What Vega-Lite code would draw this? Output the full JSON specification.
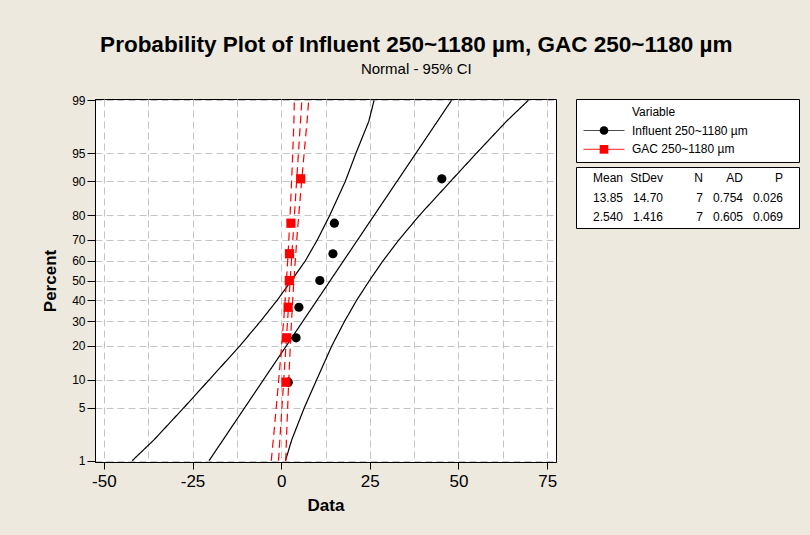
{
  "$schema": "https://vega.github.io/schema/vega-lite/v6.json",
  "background": "#EDE9DF",
  "autosize": {"type": "none"},
  "padding": {"left": 95, "top": 99, "right": 715, "bottom": 436},
  "title": {
    "text": "Probability Plot of Influent 250~1180 µm, GAC 250~1180 µm",
    "subtitle": "Normal - 95% CI",
    "anchor": "middle",
    "frame": "bounds",
    "dx": -4,
    "fontSize": 22.5,
    "fontWeight": "bold",
    "color": "black",
    "subtitleFontSize": 15,
    "subtitleColor": "black",
    "subtitlePadding": 5,
    "offset": 17
  },
  "config": {
    "font": "Liberation Sans",
    "view": {"stroke": "black", "strokeWidth": 1},
    "axis": {"labelColor": "black", "titleColor": "black", "domainColor": "black", "tickColor": "black", "labelFont": "Liberation Sans", "titleFont": "Liberation Sans"},
    "text": {"font": "Liberation Sans", "color": "black"}
  },
  "datasets": {
    "points": [
      {"series": "Influent 250~1180 µm", "percent": 9.46, "value": 2.0},
      {"series": "Influent 250~1180 µm", "percent": 22.97, "value": 4.2},
      {"series": "Influent 250~1180 µm", "percent": 36.49, "value": 5.0},
      {"series": "Influent 250~1180 µm", "percent": 50, "value": 10.9},
      {"series": "Influent 250~1180 µm", "percent": 63.51, "value": 14.6},
      {"series": "Influent 250~1180 µm", "percent": 77.03, "value": 15.0},
      {"series": "Influent 250~1180 µm", "percent": 90.54, "value": 45.3},
      {"series": "GAC 250~1180 µm", "percent": 9.46, "value": 1.35},
      {"series": "GAC 250~1180 µm", "percent": 22.97, "value": 1.55},
      {"series": "GAC 250~1180 µm", "percent": 36.49, "value": 1.95},
      {"series": "GAC 250~1180 µm", "percent": 50, "value": 2.3},
      {"series": "GAC 250~1180 µm", "percent": 63.51, "value": 2.35},
      {"series": "GAC 250~1180 µm", "percent": 77.03, "value": 2.75},
      {"series": "GAC 250~1180 µm", "percent": 90.54, "value": 5.5}
    ],
    "bands": [
      {"series": "Influent 250~1180 µm", "percent": 1, "lower": -42.0, "fit": -20.35, "upper": 1.2},
      {"series": "Influent 250~1180 µm", "percent": 2, "lower": -35.8, "fit": -16.34, "upper": 3.0},
      {"series": "Influent 250~1180 µm", "percent": 5, "lower": -27.5, "fit": -10.33, "upper": 6.5},
      {"series": "Influent 250~1180 µm", "percent": 10, "lower": -20.3, "fit": -4.99, "upper": 10.0},
      {"series": "Influent 250~1180 µm", "percent": 20, "lower": -11.6, "fit": 1.48, "upper": 14.3},
      {"series": "Influent 250~1180 µm", "percent": 30, "lower": -5.8, "fit": 6.14, "upper": 17.9},
      {"series": "Influent 250~1180 µm", "percent": 40, "lower": -1.1, "fit": 10.13, "upper": 21.3},
      {"series": "Influent 250~1180 µm", "percent": 50, "lower": 2.9, "fit": 13.85, "upper": 24.9},
      {"series": "Influent 250~1180 µm", "percent": 60, "lower": 6.8, "fit": 17.57, "upper": 28.7},
      {"series": "Influent 250~1180 µm", "percent": 70, "lower": 10.2, "fit": 21.56, "upper": 33.2},
      {"series": "Influent 250~1180 µm", "percent": 80, "lower": 13.7, "fit": 26.22, "upper": 39.0},
      {"series": "Influent 250~1180 µm", "percent": 90, "lower": 18.1, "fit": 32.69, "upper": 47.8},
      {"series": "Influent 250~1180 µm", "percent": 95, "lower": 21.1, "fit": 38.03, "upper": 55.1},
      {"series": "Influent 250~1180 µm", "percent": 98, "lower": 24.7, "fit": 44.04, "upper": 63.5},
      {"series": "Influent 250~1180 µm", "percent": 99, "lower": 26.2, "fit": 48.05, "upper": 69.7},
      {"series": "GAC 250~1180 µm", "percent": 1, "lower": -2.8, "fit": -0.75, "upper": 1.3},
      {"series": "GAC 250~1180 µm", "percent": 2, "lower": -2.22, "fit": -0.37, "upper": 1.48},
      {"series": "GAC 250~1180 µm", "percent": 5, "lower": -1.4, "fit": 0.21, "upper": 1.82},
      {"series": "GAC 250~1180 µm", "percent": 10, "lower": -0.7, "fit": 0.73, "upper": 2.15},
      {"series": "GAC 250~1180 µm", "percent": 20, "lower": 0.13, "fit": 1.35, "upper": 2.57},
      {"series": "GAC 250~1180 µm", "percent": 30, "lower": 0.68, "fit": 1.8, "upper": 2.92},
      {"series": "GAC 250~1180 µm", "percent": 40, "lower": 1.12, "fit": 2.18, "upper": 3.25},
      {"series": "GAC 250~1180 µm", "percent": 50, "lower": 1.49, "fit": 2.54, "upper": 3.59},
      {"series": "GAC 250~1180 µm", "percent": 60, "lower": 1.83, "fit": 2.9, "upper": 3.97},
      {"series": "GAC 250~1180 µm", "percent": 70, "lower": 2.16, "fit": 3.28, "upper": 4.4},
      {"series": "GAC 250~1180 µm", "percent": 80, "lower": 2.51, "fit": 3.73, "upper": 4.95},
      {"series": "GAC 250~1180 µm", "percent": 90, "lower": 2.94, "fit": 4.35, "upper": 5.77},
      {"series": "GAC 250~1180 µm", "percent": 95, "lower": 3.26, "fit": 4.87, "upper": 6.48},
      {"series": "GAC 250~1180 µm", "percent": 98, "lower": 3.6, "fit": 5.45, "upper": 7.3},
      {"series": "GAC 250~1180 µm", "percent": 99, "lower": 3.7, "fit": 5.83, "upper": 7.75}
    ],
    "legend": [
      {"label": "Variable", "kind": "title"},
      {"label": "Influent 250~1180 µm", "kind": "series"},
      {"label": "GAC 250~1180 µm", "kind": "series"}
    ],
    "stats": [
      {"series": "Influent 250~1180 µm", "Mean": "13.85", "StDev": "14.70", "N": "7", "AD": "0.754", "P": "0.026"},
      {"series": "GAC 250~1180 µm", "Mean": "2.540", "StDev": "1.416", "N": "7", "AD": "0.605", "P": "0.069"}
    ]
  },
  "spacing": 17,
  "hconcat": [
    {
      "width": 461,
      "height": 363,
      "view": {"fill": "white", "stroke": "black"},
      "encoding": {
        "x": {
          "field": "value", "type": "quantitative",
          "scale": {"domain": [-52.5, 77.5], "nice": false, "zero": false},
          "axis": {
            "values": [-50, -37.5, -25, -12.5, 0, 12.5, 25, 37.5, 50, 62.5, 75],
            "labelExpr": "datum.value % 25 === 0 ? '' + datum.value : ''",
            "tickOpacity": {"condition": {"test": "datum.value % 25 === 0", "value": 1}, "value": 0},
            "grid": true, "gridDash": [7, 4], "gridColor": "#C4C4C4",
            "tickSize": 7, "labelFontSize": 17, "labelPadding": 4,
            "labelFlush": false, "labelOverlap": false,
            "title": "Data", "titleFontSize": 17, "titleFontWeight": "bold", "titlePadding": 8
          }
        },
        "y": {
          "field": "z", "type": "quantitative",
          "scale": {"domain": [-2.343, 2.343], "nice": false, "zero": false},
          "axis": {
            "values": [-2.3263, -1.6449, -1.2816, -0.8416, -0.5244, -0.2533, 0, 0.2533, 0.5244, 0.8416, 1.2816, 1.6449, 2.3263],
            "labelExpr": "format(cumulativeNormal(datum.value) * 100, '.0f')",
            "grid": true, "gridDash": [7, 4], "gridColor": "#C4C4C4",
            "tickSize": 8, "labelFontSize": 12, "labelPadding": 2,
            "labelOverlap": false, "labelFlush": false,
            "title": "Percent", "titleFontSize": 17, "titleFontWeight": "bold", "titlePadding": 12
          }
        },
        "color": {
          "field": "series", "type": "nominal",
          "scale": {"domain": ["Influent 250~1180 µm", "GAC 250~1180 µm"], "range": ["#000000", "#FF0000"]},
          "legend": null
        }
      },
      "layer": [
        {
          "data": {"name": "bands"},
          "transform": [
            {"fold": ["lower", "fit", "upper"], "as": ["bound", "value"]},
            {"calculate": "quantileNormal(datum.percent / 100)", "as": "z"}
          ],
          "mark": {"type": "line", "strokeWidth": 1.2},
          "encoding": {
            "strokeDash": {
              "field": "series", "type": "nominal",
              "scale": {"domain": ["Influent 250~1180 µm", "GAC 250~1180 µm"], "range": [[1, 0], [8, 5]]},
              "legend": null
            },
            "detail": {"field": "bound", "type": "nominal"},
            "order": {"field": "percent", "type": "quantitative"}
          }
        },
        {
          "data": {"name": "points"},
          "transform": [{"calculate": "quantileNormal(datum.percent / 100)", "as": "z"}],
          "mark": {"type": "point", "filled": true, "opacity": 1},
          "encoding": {
            "shape": {
              "field": "series", "type": "nominal",
              "scale": {"domain": ["Influent 250~1180 µm", "GAC 250~1180 µm"], "range": ["circle", "square"]},
              "legend": null
            },
            "size": {"value": 85}
          }
        }
      ]
    },
    {
      "spacing": 3,
      "vconcat": [
        {
          "width": 223,
          "height": 63,
          "view": {"fill": "white", "stroke": "black"},
          "data": {"name": "legend"},
          "encoding": {
            "y": {
              "field": "label", "type": "nominal",
              "scale": {"type": "point", "domain": ["Variable", "Influent 250~1180 µm", "GAC 250~1180 µm"], "padding": 0.67},
              "axis": null
            }
          },
          "layer": [
            {
              "transform": [{"filter": "datum.kind === 'series'"}],
              "mark": {"type": "tick", "orient": "horizontal", "size": 41, "thickness": 1.2},
              "encoding": {
                "x": {"datum": "symbol", "type": "nominal", "scale": {"type": "point", "domain": ["symbol", "label"], "range": [28, 56], "padding": 0}, "axis": null},
                "color": {
                  "field": "label", "type": "nominal",
                  "scale": {"domain": ["Influent 250~1180 µm", "GAC 250~1180 µm"], "range": ["#000000", "#FF0000"]},
                  "legend": null
                }
              }
            },
            {
              "transform": [{"filter": "datum.kind === 'series'"}],
              "mark": {"type": "point", "filled": true, "opacity": 1, "size": 75},
              "encoding": {
                "x": {"datum": "symbol", "type": "nominal"},
                "color": {"field": "label", "type": "nominal", "legend": null},
                "shape": {
                  "field": "label", "type": "nominal",
                  "scale": {"domain": ["Influent 250~1180 µm", "GAC 250~1180 µm"], "range": ["circle", "square"]},
                  "legend": null
                }
              }
            },
            {
              "mark": {"type": "text", "align": "left", "baseline": "middle", "fontSize": 12},
              "encoding": {
                "x": {"datum": "label", "type": "nominal"},
                "text": {"field": "label"}
              }
            }
          ]
        },
        {
          "width": 223,
          "height": 61,
          "view": {"fill": "white", "stroke": "black"},
          "data": {"name": "stats"},
          "transform": [{"fold": ["Mean", "StDev", "N", "AD", "P"], "as": ["column", "cell"]}],
          "encoding": {
            "x": {
              "field": "column", "type": "nominal",
              "scale": {"type": "point", "domain": ["Mean", "StDev", "N", "AD", "P"], "range": [47, 207], "padding": 0},
              "axis": null
            }
          },
          "layer": [
            {
              "mark": {"type": "text", "align": "right", "baseline": "middle", "fontSize": 12},
              "encoding": {
                "y": {
                  "field": "series", "type": "nominal",
                  "scale": {"type": "point", "domain": ["header", "Influent 250~1180 µm", "GAC 250~1180 µm"], "padding": 0.6},
                  "axis": null
                },
                "text": {"field": "cell"}
              }
            },
            {
              "transform": [{"filter": "datum.series === 'Influent 250~1180 µm'"}],
              "mark": {"type": "text", "align": "right", "baseline": "middle", "fontSize": 12},
              "encoding": {
                "y": {"datum": "header", "type": "nominal"},
                "text": {"field": "column"}
              }
            }
          ]
        }
      ]
    }
  ]
}
